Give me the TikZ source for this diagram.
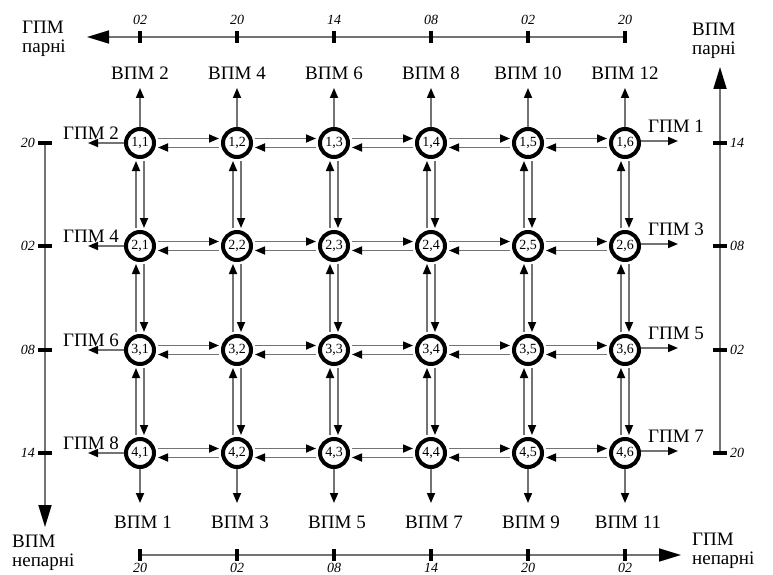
\documentclass[tikz,border=0pt]{standalone}
\usepackage{fontspec}
\setmainfont{Liberation Serif}
\usetikzlibrary{arrows.meta}
\definecolor{linkgray}{gray}{0.45}
\begin{document}
\begin{tikzpicture}[x=1pt,y=-1pt,
  cell/.style={circle, draw=black, line width=4pt, minimum size=28pt, inner sep=0pt,
    font=\fontsize{14}{14}\selectfont},
  link/.style={draw=linkgray, line width=1.7pt,
    -{Triangle[length=10pt,width=8pt,color=black]}, shorten >=2pt, shorten <=2pt},
  axis/.style={draw=linkgray, line width=1.7pt},
  bigtip/.style={-{Triangle[length=22pt,width=13pt,color=black]}},
  tickmark/.style={draw=black, line width=4pt},
  lbl/.style={inner sep=0pt, font=\fontsize{19}{19}\selectfont},
  corner/.style={inner sep=0pt, align=left, anchor=west, font=\fontsize{19}{18.5}\selectfont},
  num/.style={inner sep=0pt, font=\fontsize{14}{14}\selectfont\itshape}]
\useasboundingbox (0,0) rectangle (773,575);

% grid nodes
\foreach \r/\y in {1/143,2/246,3/350,4/453}
  \foreach \c/\x in {1/140,2/237,3/334,4/431,5/528,6/625}
    \node[cell] (n\r\c) at (\x,\y) {\r,\c};

% horizontal links
\foreach \r in {1,2,3,4}
  \foreach \c/\d in {1/2,2/3,3/4,4/5,5/6} {
    \draw[link] ([yshift=4.5pt]n\r\c.east) -- ([yshift=4.5pt]n\r\d.west);
    \draw[link] ([yshift=-4.5pt]n\r\d.west) -- ([yshift=-4.5pt]n\r\c.east);
  }
% vertical links
\foreach \c in {1,...,6}
  \foreach \r/\s in {1/2,2/3,3/4} {
    \draw[link] ([xshift=-4pt]n\s\c.north) -- ([xshift=-4pt]n\r\c.south);
    \draw[link] ([xshift=4pt]n\r\c.south) -- ([xshift=4pt]n\s\c.north);
  }

% top outputs
\foreach \c/\x/\t in {1/140/2,2/237/4,3/334/6,4/431/8,5/528/10,6/625/12} {
  \coordinate (up\c) at (\x,88);
  \draw[link, shorten <=0pt, shorten >=0pt] (n1\c.north) -- (up\c);
  \node[lbl] (vt\c) at (\x,73) {ВПМ \t};
}
% bottom outputs
\foreach \c/\x/\t in {1/140/1,2/237/3,3/334/5,4/431/7,5/528/9,6/625/11} {
  \coordinate (dn\c) at (\x,503);
  \draw[link, shorten <=0pt, shorten >=0pt] (n4\c.south) -- (dn\c);
  \node[lbl] (vb\c) at (\x+3,522) {ВПМ \t};
}
% left outputs
\foreach \r/\y/\t in {1/143/2,2/246/4,3/350/6,4/453/8} {
  \coordinate (lf\r) at (88,\y);
  \draw[link, shorten <=0pt, shorten >=0pt] (n\r1.west) -- (lf\r);
  \node[lbl] (gl\r) at (91,\y-10) {ГПМ \t};
}
% right outputs
\foreach \r/\y/\t in {1/143/1,2/246/3,3/350/5,4/453/7} {
  \coordinate (rt\r) at (678,\y-2);
  \draw[link, shorten <=0pt, shorten >=0pt] ([yshift=2pt]n\r6.east) -- (rt\r);
  \node[lbl] (gr\r) at (676,\y-17) {ГПМ \t};
}

% top axis
\coordinate (ta1) at (625,37);
\coordinate (ta2) at (87,37);
\draw[axis, bigtip] (ta1) -- (ta2);
\foreach \x/\t in {140/02,237/20,334/14,431/08,528/02,625/20} {
  \draw[tickmark] (\x,31) -- (\x,43);
  \node[num] at (\x,20) {\t};
}
% bottom axis
\coordinate (ba1) at (140,555);
\coordinate (ba2) at (681,555);
\draw[axis, bigtip] (ba1) -- (ba2);
\foreach \x/\t in {140/20,237/02,334/08,431/14,528/20,625/02} {
  \draw[tickmark] (\x,549) -- (\x,561);
  \node[num] at (\x,568) {\t};
}
% left axis
\coordinate (la1) at (45,141);
\coordinate (la2) at (45,527);
\draw[axis, bigtip] (la1) -- (la2);
\foreach \y/\t in {143/20,246/02,350/08,453/14} {
  \draw[tickmark] (38,\y) -- (52,\y);
  \node[num, anchor=east] at (35,\y) {\t};
}
% right axis
\coordinate (ra1) at (720,455);
\coordinate (ra2) at (720,67);
\draw[axis, bigtip] (ra1) -- (ra2);
\foreach \y/\t in {143/14,246/08,350/02,453/20} {
  \draw[tickmark] (713,\y) -- (727,\y);
  \node[num, anchor=west] at (730,\y) {\t};
}

% corner labels
\node[corner] (c1) at (22,39) {ГПМ\\парні};
\node[corner] (c2) at (692,41) {ВПМ\\парні};
\node[corner] (c3) at (12,553) {ВПМ\\непарні};
\node[corner] (c4) at (692,551) {ГПМ\\непарні};
\end{tikzpicture}
\end{document}
